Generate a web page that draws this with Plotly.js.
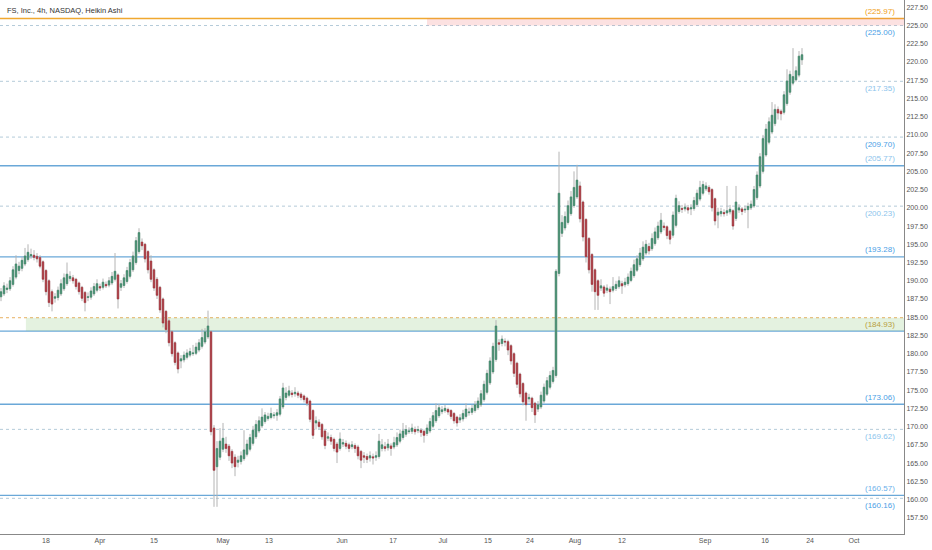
<!DOCTYPE html>
<html><head><meta charset="utf-8">
<script src="https://cdn.plot.ly/plotly-3.0.1.min.js"></script>
<style>html,body{margin:0;padding:0;background:#fff}#c{width:932px;height:550px}</style>
</head><body><div id="c"></div>
<script>
// Heikin Ashi 4h candles (index order)
const opens = [187.8,188.2,188.8,188.9,189.5,190.5,191.4,191.7,192.3,192.9,193.4,193.5,193.35,193.2,192.6,191.4,190.0,188.5,187.6,187.7,
188.2,188.9,189.6,190.3,190.4,190.2,189.7,189.1,188.4,187.7,187.75,188.2,188.7,189.2,189.1,189.5,189.4,189.7,190.2,190.8,
189.1,189.35,189.9,190.6,191.5,192.5,194.0,195.3,195.0,194.0,192.7,191.5,190.2,189.1,187.5,185.8,184.5,183.0,181.5,180.1,
179.0,179.15,179.5,179.8,180.0,180.05,180.5,181.0,181.6,182.3,183.0,169.8,164.5,165.8,166.9,167.6,167.3,166.6,165.8,165.1,
165.2,165.6,166.2,166.9,167.7,168.6,169.4,170.1,170.7,171.1,171.25,171.5,171.55,171.7,172.7,174.0,174.3,174.6,174.5,174.6,
174.45,174.2,173.9,173.5,172.2,170.5,170.6,170.3,169.4,168.4,168.5,168.25,167.6,167.0,167.6,167.7,167.5,167.25,167.4,167.2,
166.6,166.0,165.9,165.7,165.85,165.8,165.9,167.0,167.25,167.1,167.35,167.2,167.5,168.0,168.5,168.95,169.3,169.35,169.6,169.45,
169.5,169.35,169.05,169.4,170.05,170.8,171.5,172.05,172.2,172.35,172.2,171.8,171.3,170.9,171.05,171.4,171.9,171.95,172.2,172.6,
173.0,173.7,174.7,176.0,177.5,179.2,181.5,181.4,181.7,181.65,181.1,180.0,178.7,177.2,175.9,174.6,173.8,173.9,173.2,172.4,
172.7,173.5,174.45,175.4,176.2,177.0,191.0,196.5,197.25,198.0,199.2,200.3,201.5,203.0,200.8,198.4,195.8,193.6,191.5,190.0,
189.0,189.15,188.7,188.85,188.7,188.95,189.2,189.6,189.45,189.6,190.05,190.7,191.45,192.2,193.0,193.8,194.7,194.4,195.1,195.9,
196.7,197.5,197.4,196.8,196.25,197.6,199.5,199.9,199.85,200.0,199.85,199.9,200.45,201.2,202.0,202.6,202.8,202.5,201.25,199.0,
199.2,199.35,199.3,199.45,199.6,198.55,199.7,199.85,199.7,199.75,200.0,200.25,201.4,203.0,205.0,207.25,209.0,210.4,211.55,213.5,
213.25,213.1,214.3,215.85,217.1,217.55,218.2,220.3];
const closes = [188.5,189.3,189.0,190.0,191.5,192.3,192.0,192.8,193.4,193.9,193.6,193.2,193.0,192.0,190.2,188.5,187.0,186.8,187.8,188.7,
189.6,190.4,190.9,190.6,190.0,189.2,188.5,187.6,187.0,187.8,188.6,189.2,189.6,189.0,189.8,189.3,190.0,190.6,191.3,187.5,
189.6,190.4,191.4,192.5,193.4,195.5,196.6,194.8,193.0,191.5,190.2,189.0,188.0,186.0,184.2,183.3,181.5,180.0,178.8,177.9,
179.3,179.8,180.1,180.3,180.1,180.9,181.5,182.2,183.0,183.8,169.3,164.0,167.0,168.0,168.4,167.0,166.0,165.0,164.5,165.4,
166.0,166.8,167.6,168.5,169.5,170.3,170.8,171.3,171.6,171.4,171.8,171.6,171.9,173.8,175.3,174.6,174.9,174.4,174.7,174.3,
174.0,173.7,173.2,171.0,168.8,170.8,170.0,168.6,167.4,168.6,168.0,167.0,166.5,168.3,167.8,167.3,167.0,167.5,167.0,166.0,
165.4,165.8,165.5,166.0,165.7,166.0,168.0,167.5,167.0,167.6,167.0,167.8,168.5,169.0,169.4,169.6,169.4,169.8,169.3,169.6,
169.2,168.8,169.8,170.7,171.5,172.2,172.6,172.3,172.5,172.0,171.4,170.8,170.5,171.2,171.8,172.4,172.0,172.5,173.0,173.5,
174.5,175.8,177.3,179.0,181.0,183.8,181.3,182.0,181.6,180.5,179.0,177.3,175.8,174.5,173.4,173.0,174.0,172.6,171.6,173.0,
174.3,175.4,176.3,177.0,177.7,191.3,202.0,198.0,198.8,200.3,201.5,202.8,203.8,198.5,196.0,193.3,191.5,189.5,188.5,188.0,
189.3,188.3,189.0,188.5,189.2,189.5,190.0,189.3,189.8,190.5,191.3,192.2,193.0,193.8,194.6,195.0,194.1,195.8,196.7,197.5,
198.3,197.3,196.2,195.7,199.0,201.3,200.3,199.8,200.1,199.7,200.0,201.0,202.0,202.8,203.2,203.0,202.2,200.0,198.2,199.4,
199.5,199.2,199.6,199.8,197.5,200.8,200.0,199.5,199.8,200.2,200.5,202.5,204.5,207.0,209.5,210.8,211.8,212.7,213.5,213.0,
212.9,215.5,217.4,218.3,218.0,218.8,220.8,221.0];
const highs = [189.0,189.8,189.6,190.5,192.0,193.5,192.6,193.3,194.5,195.0,194.4,194.2,193.8,193.5,192.8,191.6,190.2,188.8,188.3,189.2,
190.2,191.0,192.5,191.3,190.8,190.4,189.9,189.3,188.6,188.4,189.1,189.7,190.2,189.6,190.3,189.9,190.5,191.2,193.8,191.0,
190.1,190.9,191.9,193.0,194.0,196.0,197.2,195.8,195.2,194.2,193.5,191.7,190.5,189.3,187.7,186.0,184.8,183.2,181.7,180.3,
179.8,180.3,180.6,180.8,181.2,181.5,182.0,183.4,183.5,185.9,183.2,170.2,168.0,169.8,170.5,168.6,167.6,166.9,166.2,166.0,
166.6,169.5,168.2,169.0,170.1,170.9,171.4,172.5,172.0,171.9,172.6,172.0,172.4,174.2,176.0,175.4,175.6,175.0,175.4,174.9,
174.7,174.4,174.1,173.7,172.4,171.4,171.0,170.5,169.6,169.2,168.9,168.5,167.9,169.2,168.3,168.1,167.8,168.0,167.7,167.5,
166.8,166.5,166.3,166.6,166.3,166.6,169.0,168.3,167.9,168.3,167.7,168.6,169.2,169.6,170.5,170.2,169.9,170.4,170.0,170.1,
169.8,169.6,170.3,171.2,172.0,173.2,173.1,172.8,173.0,172.6,172.4,172.0,171.5,171.7,172.3,173.2,172.6,173.0,173.5,174.0,
175.0,176.3,177.8,179.5,181.5,184.6,182.0,182.5,182.1,181.9,181.3,180.2,178.9,177.4,176.1,174.8,174.5,174.1,173.4,173.5,
174.8,175.9,176.8,177.6,178.2,191.6,207.7,199.0,199.5,201.0,202.3,205.0,205.9,203.6,201.0,198.6,196.0,193.8,191.7,190.2,
190.2,189.4,189.5,189.2,190.5,190.0,190.6,190.0,190.4,191.0,191.8,192.9,193.5,194.5,195.4,195.6,195.2,196.5,197.3,198.1,
199.3,198.0,197.6,197.0,199.5,201.8,200.9,200.4,200.6,200.4,200.5,201.5,202.5,203.7,203.7,203.5,203.1,202.7,201.4,200.0,
200.0,199.8,203.0,200.4,199.8,203.0,200.5,200.1,200.3,200.7,201.0,203.0,205.0,207.5,210.0,211.5,212.4,214.5,214.2,213.9,
213.5,216.0,219.0,218.8,221.9,219.4,221.5,221.9];
const lows = [187.2,187.9,188.3,188.6,189.2,190.2,190.9,191.3,192.0,192.6,193.0,192.8,192.5,191.7,189.8,188.0,186.4,185.8,187.0,187.3,
187.9,188.6,189.3,189.9,189.6,188.8,188.1,187.2,185.8,187.2,187.4,187.9,188.4,188.6,188.8,189.0,189.1,189.4,189.9,186.2,
188.6,189.0,189.6,190.3,191.2,192.2,193.7,194.2,192.5,191.0,189.8,188.6,187.5,185.6,183.6,182.8,181.0,179.6,178.4,177.3,
178.0,178.8,179.2,179.5,179.7,179.8,180.2,180.7,181.3,182.0,168.8,159.0,159.0,165.4,166.5,166.4,165.3,164.3,163.2,164.4,
164.8,165.3,165.9,166.6,167.4,168.3,169.1,169.8,170.4,170.8,171.0,171.1,170.8,171.4,172.4,173.6,174.0,174.0,174.1,173.9,
173.6,173.3,172.8,170.6,168.3,169.6,169.6,168.2,166.9,168.0,167.5,166.6,165.0,166.7,167.2,166.9,166.5,166.9,166.4,165.5,
164.3,165.0,165.0,165.2,164.8,165.3,165.6,166.6,166.6,166.7,166.0,166.9,167.2,167.7,168.2,168.6,169.0,169.0,168.9,169.1,
168.6,167.8,168.7,169.1,169.8,170.5,171.2,171.7,171.9,171.6,171.0,170.4,170.0,170.5,170.7,171.1,171.5,171.6,171.9,172.3,
172.7,173.4,174.4,175.7,177.2,178.9,180.4,181.0,181.0,179.8,178.5,176.8,175.3,174.0,172.9,170.8,173.3,172.0,170.5,172.0,
172.4,173.2,174.2,175.1,175.9,176.7,190.6,196.0,196.9,197.7,198.9,200.0,201.2,198.0,195.4,192.5,191.0,188.5,186.0,186.0,
188.6,187.8,188.3,186.8,188.4,188.6,188.9,188.2,189.1,189.3,189.8,190.4,191.2,191.9,192.7,193.5,193.6,194.1,194.8,195.6,
196.4,196.9,195.7,195.0,195.9,197.3,199.2,199.3,199.5,199.2,199.0,199.6,200.2,200.9,201.7,202.3,201.8,199.5,197.6,197.2,
198.8,198.8,198.9,199.1,197.0,198.2,199.3,199.0,199.3,197.2,199.7,200.0,201.1,202.7,204.7,207.0,208.7,210.1,211.2,212.1,
212.0,212.8,214.0,215.5,216.8,217.3,217.9,219.6];

// horizontal levels
const solidLevels = [205.77, 193.28, 183.10, 173.06, 160.57];
const dashedLevels = [225.00, 217.35, 209.70, 200.23, 169.62, 160.16];
const resistanceLevel = 225.97;
const zoneTop = 184.93;
const labelValues = [225.97, 225.00, 217.35, 209.70, 205.77, 200.23, 193.28, 184.93, 173.06, 169.62, 160.57, 160.16];
const labelSide =   [1, -1, -1, -1, 1, -1, 1, -1, 1, -1, 1, -1];
const labelColors = ['#f0a020','#4aa0e6','#8cc4ec','#4aa0e6','#8cc4ec','#8cc4ec','#4aa0e6','#b8a040','#4aa0e6','#8cc4ec','#6ab0ea','#4aa0e6'];

// axis ticks
const yTicks = [];
for (let v = 157.5; v <= 227.5 + 1e-9; v += 2.5) yTicks.push(v);
const xTickVals = [15.0, 33.0, 51.0, 74.0, 89.3, 113.7, 130.7, 147.3, 162.3, 176.3, 191.3, 207.0, 234.7, 254.7, 269.7, 284.3];
const xTickText = ['18','Apr','15','May','13','Jun','17','Jul','15','24','Aug','12','Sep','16','24','Oct'];

const idx = opens.map((_, i) => i);
const bodyHigh = opens.map((o, i) => Math.max(o, closes[i]));
const bodyLow = opens.map((o, i) => Math.min(o, closes[i]));
const GREEN = '#3f8c6c', RED = '#a8323a', WICK = '#b4b4b4';

const wicks = {
  type: 'candlestick', x: idx, open: opens, high: highs, low: lows, close: closes,
  increasing: {line: {color: WICK, width: 1}, fillcolor: WICK},
  decreasing: {line: {color: WICK, width: 1}, fillcolor: WICK},
  whiskerwidth: 0, hoverinfo: 'skip', showlegend: false
};
const bodies = {
  type: 'candlestick', x: idx, open: opens, high: bodyHigh, low: bodyLow, close: closes,
  increasing: {line: {color: GREEN, width: 0.6}, fillcolor: GREEN},
  decreasing: {line: {color: RED, width: 0.6}, fillcolor: RED},
  whiskerwidth: 0, hoverinfo: 'skip', showlegend: false
};

const shapes = [];
// pink resistance band and green support zone
shapes.push({type:'rect', xref:'x', yref:'y', x0: 142, x1: 301, y0: dashedLevels[0], y1: resistanceLevel,
  fillcolor:'rgba(242,120,120,0.22)', line:{width:0}, layer:'below'});
shapes.push({type:'rect', xref:'x', yref:'y', x0: 8.3, x1: 301, y0: solidLevels[2], y1: zoneTop,
  fillcolor:'rgba(120,190,100,0.20)', line:{width:0}, layer:'below'});
dashedLevels.forEach(v => shapes.push({type:'line', xref:'paper', x0:0, x1:1, y0:v, y1:v,
  line:{color:'#b4cbd9', width:1, dash:'3px,3px'}, layer:'below'}));
solidLevels.forEach(v => shapes.push({type:'line', xref:'paper', x0:0, x1:1, y0:v, y1:v,
  line:{color:'#6aa8d8', width:1.3}, layer:'below'}));
shapes.push({type:'line', xref:'paper', x0:0, x1:1, y0:zoneTop, y1:zoneTop,
  line:{color:'#e8b060', width:1, dash:'3px,3px'}, layer:'below'});
shapes.push({type:'line', xref:'paper', x0:0, x1:1, y0:resistanceLevel, y1:resistanceLevel,
  line:{color:'#f0a830', width:1.6}, layer:'below'});

const annotations = labelValues.map((v, i) => ({
  xref:'paper', yref:'y', x: 897/904, y: v, xanchor:'right', yanchor:'middle',
  yshift: labelSide[i] * 7, showarrow:false, text:'(' + v.toFixed(2) + ')',
  font:{family:'Liberation Sans, Arial, sans-serif', size:8, color: labelColors[i]}
}));
annotations.push({xref:'paper', yref:'paper', x: 5/904, y: 1, xanchor:'left', yanchor:'top', yshift:-4,
  showarrow:false, text:'FS, Inc., 4h, NASDAQ, Heikin Ashi',
  font:{family:'Liberation Sans, Arial, sans-serif', size:7.5, color:'#333'}});

const layout = {
  width: 932, height: 550,
  margin: {l: 0, r: 28, t: 0, b: 16, pad: 0},
  paper_bgcolor: '#fff', plot_bgcolor: '#fff',
  showlegend: false, hovermode: false,
  xaxis: {type:'linear', range:[-0.333, 301], showgrid:false, zeroline:false,
    tickmode:'array', tickvals: xTickVals, ticktext: xTickText, ticks:'',
    tickfont:{family:'Liberation Sans, Arial, sans-serif', size:7, color:'#555'},
    showline:true, linecolor:'#888', linewidth:1, mirror:false,
    rangeslider:{visible:false}, fixedrange:true},
  yaxis: {side:'right', range:[155.27, 228.5], showgrid:false, zeroline:false,
    tickmode:'array', tickvals: yTicks, ticktext: yTicks.map(v => v.toFixed(2)), ticks:'',
    tickfont:{family:'Liberation Sans, Arial, sans-serif', size:7, color:'#555'},
    showline:true, linecolor:'#888', linewidth:1, fixedrange:true},
  shapes: shapes,
  annotations: annotations
};

Plotly.newPlot('c', [wicks, bodies], layout, {displayModeBar:false, staticPlot:true});
</script>
</body></html>
